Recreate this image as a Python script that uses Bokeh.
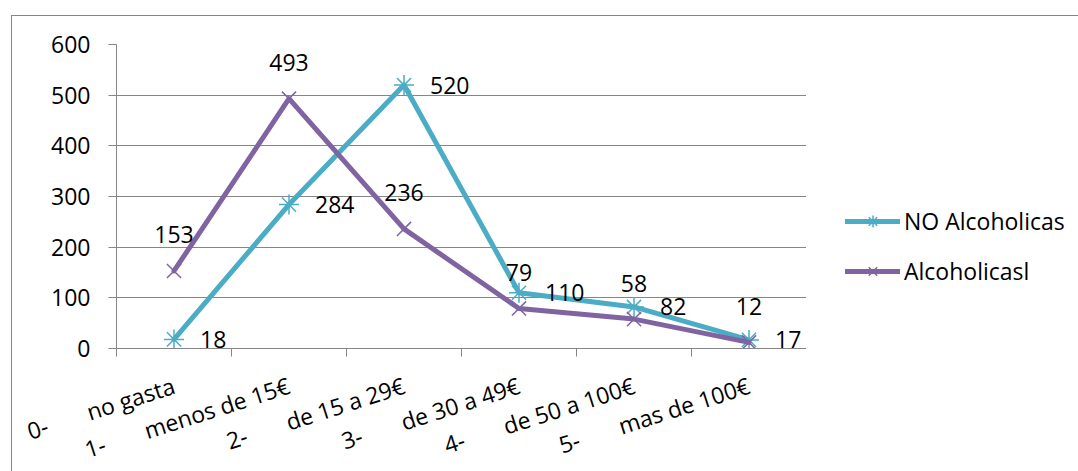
from bokeh.plotting import figure
from bokeh.layouts import row
from bokeh.models import (ColumnDataSource, LabelSet, FixedTicker, Legend,
                          LegendItem, Range1d)
from bokeh.core.properties import value
from bokeh.embed import file_html
from bokeh.resources import INLINE

# ---------------- data ----------------
NB = "\u00a0"
categories = [
    "0-" + NB * 7 + "no gasta",
    "1-" + NB * 7 + "menos de 15€",
    "2-" + NB * 7 + "de 15 a 29€",
    "3-" + NB * 7 + "de 30 a 49€",
    "4-" + NB * 7 + "de 50 a 100€",
    "5-" + NB * 7 + "mas de 100€",
]
no_alcoholicas = [18, 284, 520, 110, 82, 17]
alcoholicas = [153, 493, 236, 79, 58, 12]
series_names = ["NO Alcoholicas", "Alcoholicasl"]
y_ticks = [0, 100, 200, 300, 400, 500, 600]

# ---------------- styles ----------------
TEAL = "#4BACC6"
PURPLE = "#8064A2"
GRID = "#868686"
FONT = "Open Sans"
FS = "23px"

xs = list(range(len(categories)))
src = ColumnDataSource(dict(
    x=xs,
    no=no_alcoholicas,
    al=alcoholicas,
    no_txt=[str(v) for v in no_alcoholicas],
    al_txt=[str(v) for v in alcoholicas],
))

p = figure(frame_width=690, frame_height=304,
           x_range=Range1d(xs[0] - 0.5, xs[-1] + 0.5),
           y_range=Range1d(y_ticks[0], y_ticks[-1]),
           output_backend="svg", toolbar_location=None,
           min_border_left=116, min_border_top=44,
           min_border_right=0, min_border_bottom=100)
p.outline_line_color = None
p.background_fill_color = "white"
p.border_fill_alpha = 0

# x axis: ticks at category boundaries, labels at centers
boundaries = [x - 0.5 for x in xs] + [xs[-1] + 0.5]
p.xaxis.ticker = FixedTicker(ticks=xs, minor_ticks=boundaries)
p.xaxis.major_label_overrides = {x: c for x, c in zip(xs, categories)}
p.xaxis.major_tick_line_color = None
p.xaxis.minor_tick_line_color = GRID
p.xaxis.minor_tick_out = 8
p.xaxis.minor_tick_in = 0
p.xaxis.axis_line_color = GRID
p.xaxis.axis_line_width = 1
p.xaxis.major_label_orientation = 0.31
p.xaxis.major_label_standoff = 28
p.xaxis.major_label_text_font = FONT
p.xaxis.major_label_text_font_size = FS
p.xaxis.major_label_text_color = "black"

# y axis
p.yaxis.ticker = FixedTicker(ticks=y_ticks)
p.yaxis.major_tick_out = 8
p.yaxis.major_tick_in = 0
p.yaxis.major_tick_line_color = GRID
p.yaxis.minor_tick_line_color = None
p.yaxis.axis_line_color = GRID
p.yaxis.major_label_standoff = 18
p.yaxis.major_label_text_font = FONT
p.yaxis.major_label_text_font_size = FS
p.yaxis.major_label_text_color = "black"

p.xgrid.grid_line_color = None
p.ygrid.ticker = FixedTicker(ticks=y_ticks)
p.ygrid.grid_line_color = GRID
p.ygrid.grid_line_width = 1

line_kw = dict(line_width=5, line_join="round", line_cap="round")
mark_kw = dict(size=20, line_width=1.5)

# series
p.line("x", "no", source=src, line_color=TEAL, **line_kw)
p.scatter("x", "no", source=src, marker="asterisk", line_color=TEAL, **mark_kw)
p.line("x", "al", source=src, line_color=PURPLE, **line_kw)
p.scatter("x", "al", source=src, marker="x", line_color=PURPLE, **mark_kw)

# data labels
p.add_layout(LabelSet(x="x", y="no", text="no_txt", source=src,
                      x_offset=26, y_offset=0, text_align="left",
                      text_baseline="middle", text_font=value(FONT),
                      text_font_size=value(FS), text_color="black"))
p.add_layout(LabelSet(x="x", y="al", text="al_txt", source=src,
                      x_offset=0, y_offset=36, text_align="center",
                      text_baseline="middle", text_font=value(FONT),
                      text_font_size=value(FS), text_color="black"))

# ---------------- legend panel ----------------
pl = figure(width=272, height=482, x_range=Range1d(100, 101),
            y_range=Range1d(100, 101), output_backend="svg",
            toolbar_location=None, x_axis_location=None,
            y_axis_location=None, min_border=0)
pl.outline_line_color = None
pl.background_fill_alpha = 0
pl.border_fill_alpha = 0
pl.grid.visible = False
g1 = pl.line("x", "no", source=src, line_color=TEAL, **line_kw)
s1 = pl.scatter("x", "no", source=src, marker="asterisk", line_color=TEAL, **mark_kw)
g2 = pl.line("x", "al", source=src, line_color=PURPLE, **line_kw)
s2 = pl.scatter("x", "al", source=src, marker="x", line_color=PURPLE, **mark_kw)

legend = Legend(items=[LegendItem(label=series_names[0], renderers=[g1, s1]),
                       LegendItem(label=series_names[1], renderers=[g2, s2])],
                location=(39, 60), orientation="vertical",
                glyph_width=55, glyph_height=30, label_height=30,
                spacing=18, padding=0, margin=0, label_standoff=4,
                border_line_color=None, background_fill_alpha=0,
                label_text_font=FONT, label_text_font_size=FS,
                label_text_color="black")
pl.add_layout(legend, "center")

layout = row(p, pl, spacing=0)
# chart-area outline (left and top edges), behind the transparent canvases
layout.styles = {"margin-bottom": "-40px",
                 "box-shadow": "inset 11px 15px 0 0 white, inset 12px 16px 0 0 #868686"}

open("out.html", "w").write(file_html(layout, INLINE))
